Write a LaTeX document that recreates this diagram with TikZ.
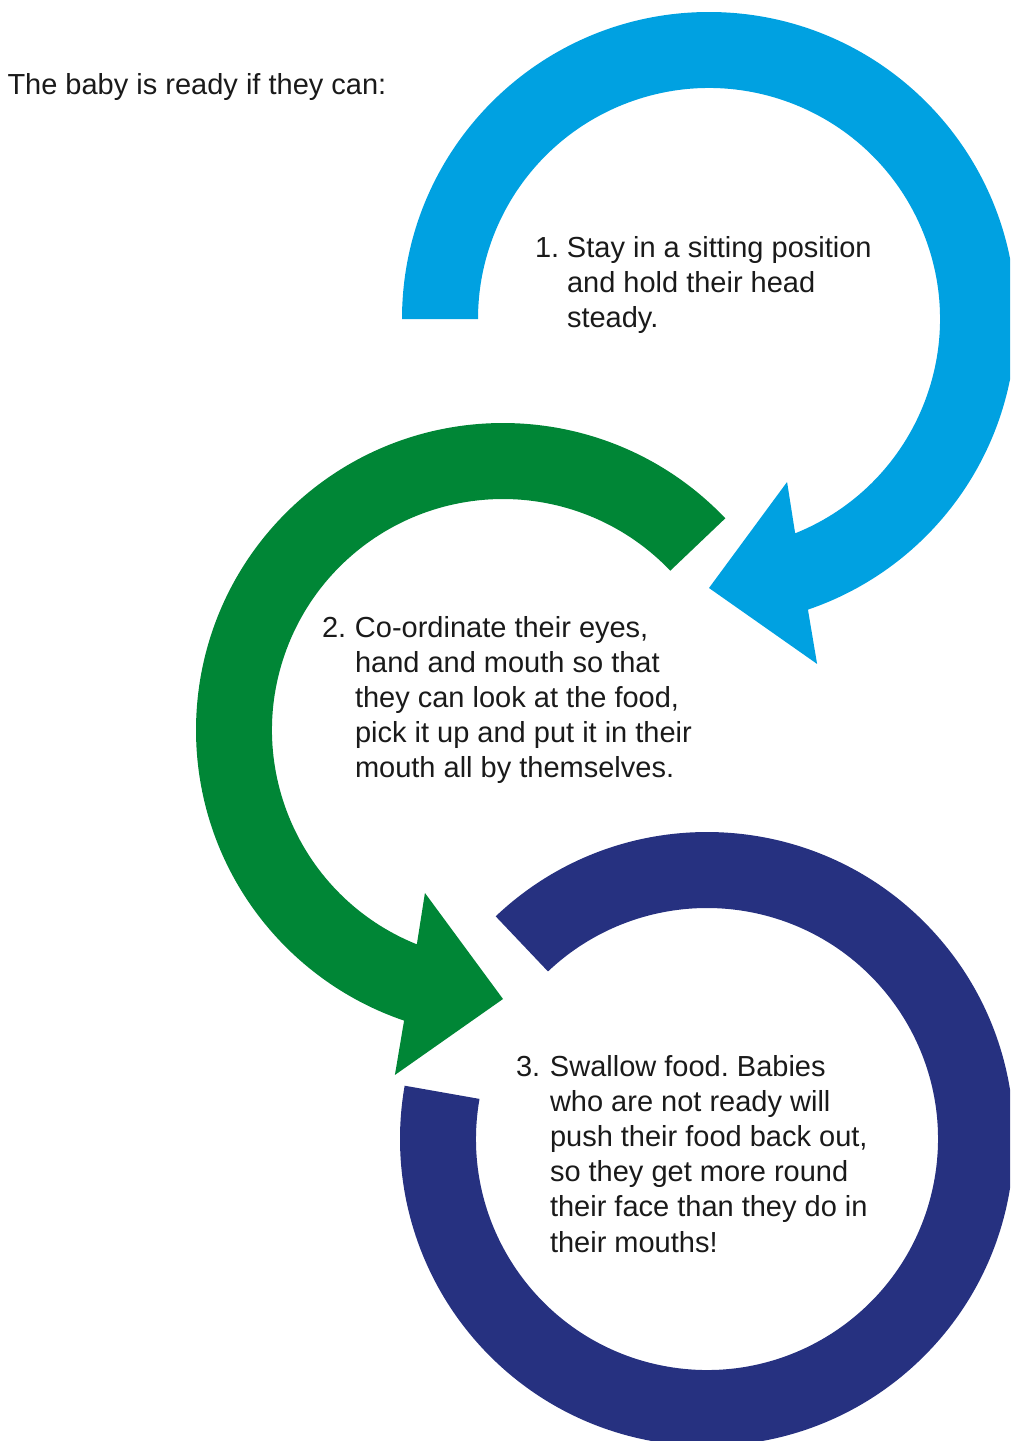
\documentclass[tikz,border=0pt]{standalone}
\usepackage{fontspec}
\setmainfont{Liberation Sans}
\frenchspacing
\definecolor{stepblue}{RGB}{0,161,225}
\definecolor{stepgreen}{RGB}{0,134,54}
\definecolor{stepnavy}{RGB}{38,49,128}
\definecolor{steptext}{RGB}{26,26,26}
\begin{document}
\begin{tikzpicture}[x=1pt,y=-1pt,
  bodytext/.style={anchor=base west, inner sep=0pt, outer sep=0pt, text=steptext, font=\fontsize{29}{35.2}\selectfont}]
\useasboundingbox (0,0) rectangle (1010,1441);
\clip (0,0) rectangle (1010,1441);
\coordinate (cb) at (709,319);
\coordinate (cg) at (503,730);
\coordinate (cn) at (707,1139);

% blue arrow
\fill[stepblue] ([shift={(cb)}]180:307) arc[start angle=180, end angle=431.2, radius=307]
  -- ([shift={(cb)}]72.6:361.5) -- ([shift={(cb)}]90:269) -- ([shift={(cb)}]64.4:180.7)
  -- ([shift={(cb)}]68.1:231) arc[start angle=428.1, end angle=180, radius=231] -- cycle;

% green arrow
\fill[stepgreen] ([shift={(cg)}]316.4:307) arc[start angle=316.4, end angle=108.8, radius=307]
  -- ([shift={(cg)}]107.4:361.5) -- ([shift={(cg)}]90:269) -- ([shift={(cg)}]115.6:180.7)
  -- ([shift={(cg)}]111.9:231) arc[start angle=111.9, end angle=316.4, radius=231] -- cycle;

% navy ring
\fill[stepnavy] ([shift={(cn)}]226.5:307) arc[start angle=226.5, end angle=550, radius=307]
  -- ([shift={(cn)}]190:231) arc[start angle=550, end angle=226.5, radius=231] -- cycle;

\node[bodytext] (head) at (7.5,94) {The baby is ready if they can:};

\node[bodytext] (t1) at (535,257) {\begin{tabular}[t]{@{}l@{}l@{}}\makebox[32pt][l]{1.}&Stay in a sitting position\\
 &and hold their head\\
 &steady.\end{tabular}};

\node[bodytext] (t2) at (322,637) {\begin{tabular}[t]{@{}l@{}l@{}}\makebox[33pt][l]{2.}&Co-ordinate their eyes,\\
 &hand and mouth so that\\
 &they can look at the food,\\
 &pick it up and put it in their\\
 &mouth all by themselves.\end{tabular}};

\node[bodytext] (t3) at (516,1076) {\begin{tabular}[t]{@{}l@{}l@{}}\makebox[34pt][l]{3.}&Swallow food. Babies\\
 &who are not ready will\\
 &push their food back out,\\
 &so they get more round\\
 &their face than they do in\\
 &their mouths!\end{tabular}};
\end{tikzpicture}
\end{document}
